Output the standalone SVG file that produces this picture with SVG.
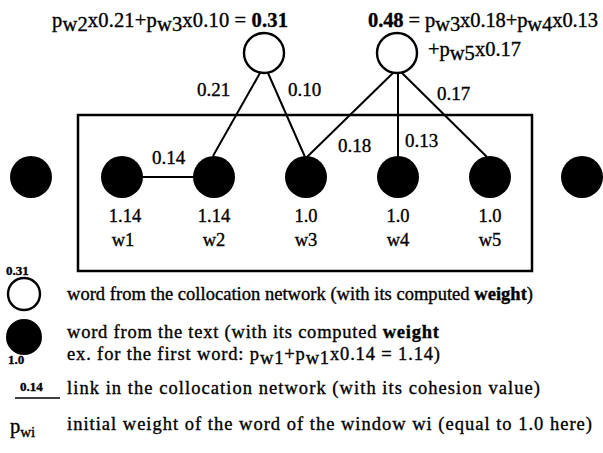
<svg xmlns="http://www.w3.org/2000/svg" width="603" height="453" viewBox="0 0 603 453">
<style>
text{font-family:"Liberation Serif","Times New Roman",serif;fill:#000;stroke:#000;stroke-width:0.35;}
.t{font-size:20.5px;}
.e{font-size:19px;}
.n{font-size:18.5px;}
.l{font-size:18.5px;}
.b{font-weight:bold;}
.s{font-size:15px;}
.tiny{font-size:13px;font-weight:bold;}
.open{fill:#fff;stroke:#000;stroke-width:2.4;}
.dot{fill:#000;}
.edge{stroke:#000;stroke-width:2;fill:none;}
.box{fill:none;stroke:#000;stroke-width:2.5;}
</style>
<rect width="603" height="453" fill="#fff"/>
<g id="window">
<rect class="box" x="78" y="115" width="454" height="156"/>
</g>
<g id="connectors">
<line class="edge" x1="260" y1="73" x2="213" y2="156"/>
<line class="edge" x1="268" y1="73" x2="305" y2="157"/>
<line class="edge" x1="394" y1="72" x2="307" y2="157"/>
<line class="edge" x1="398" y1="73" x2="398" y2="156"/>
<line class="edge" x1="401" y1="72" x2="487" y2="157"/>
<line class="edge" x1="141" y1="177" x2="195" y2="177"/>
<text class="e" x="197" y="96">0.21</text>
<text class="e" x="288" y="96">0.10</text>
<text class="e" x="437" y="100">0.17</text>
<text class="e" x="338" y="152">0.18</text>
<text class="e" x="405" y="147">0.13</text>
<text class="e" x="152" y="164">0.14</text>
</g>
<g id="c1">
<circle class="open" cx="264" cy="53" r="20"/>
<text class="t" x="52" y="27" textLength="236">p<tspan dy="4">w2</tspan><tspan dy="-4">x0.21+p</tspan><tspan dy="4">w3</tspan><tspan dy="-4">x0.10 = </tspan><tspan class="b">0.31</tspan></text>
</g>
<g id="c2">
<circle class="open" cx="397" cy="53" r="20"/>
<text class="t" x="368" y="27" textLength="230"><tspan class="b">0.48</tspan> = p<tspan dy="4">w3</tspan><tspan dy="-4">x0.18+p</tspan><tspan dy="4">w4</tspan><tspan dy="-4">x0.13</tspan></text>
<text class="t" x="428" y="56">+p<tspan dy="4">w5</tspan><tspan dy="-4">x0.17</tspan></text>
</g>
<g id="left"><ellipse class="dot" cx="31" cy="177" rx="21" ry="21"/></g>
<g id="w1"><ellipse class="dot" cx="122" cy="177" rx="21" ry="21"/><text class="n" x="125" y="222" text-anchor="middle">1.14</text><text class="n" x="123" y="246" text-anchor="middle">w1</text></g>
<g id="w2"><ellipse class="dot" cx="214" cy="177" rx="21" ry="21"/><text class="n" x="214" y="222" text-anchor="middle">1.14</text><text class="n" x="214" y="246" text-anchor="middle">w2</text></g>
<g id="w3"><ellipse class="dot" cx="306" cy="177" rx="21" ry="21"/><text class="n" x="306" y="222" text-anchor="middle">1.0</text><text class="n" x="306" y="246" text-anchor="middle">w3</text></g>
<g id="w4"><ellipse class="dot" cx="398" cy="177" rx="21" ry="21"/><text class="n" x="398" y="222" text-anchor="middle">1.0</text><text class="n" x="398" y="246" text-anchor="middle">w4</text></g>
<g id="w5"><ellipse class="dot" cx="490" cy="177" rx="21" ry="21"/><text class="n" x="490" y="222" text-anchor="middle">1.0</text><text class="n" x="490" y="246" text-anchor="middle">w5</text></g>
<g id="right"><ellipse class="dot" cx="582" cy="177" rx="21" ry="21"/></g>
<g id="legend">
<text class="tiny" x="6" y="275">0.31</text>
<circle class="open" cx="24" cy="294" r="16"/>
<text class="l" x="67" y="300" textLength="466">word from the collocation network (with its computed <tspan class="b">weight</tspan>)</text>
<circle class="dot" cx="24" cy="337" r="18"/>
<text class="l" x="67" y="338" textLength="372">word from the text (with its computed <tspan class="b">weight</tspan></text>
<text class="l" x="67" y="360" textLength="373">ex. for the first word: p<tspan dy="4">w1</tspan><tspan dy="-4">+p</tspan><tspan dy="4">w1</tspan><tspan dy="-4">x0.14 = 1.14)</tspan></text>
<text class="tiny" x="8" y="364">1.0</text>
<text x="20" y="391" style="font-size:13px;font-weight:bold">0.14</text>
<line x1="15" y1="398" x2="60" y2="398" style="stroke:#000;stroke-width:1.5"/>
<text class="l" x="67" y="394" textLength="473">link in the collocation network (with its cohesion value)</text>
<text class="t" x="10" y="433">p<tspan dy="4" class="s">wi</tspan></text>
<text class="l" x="67" y="430" textLength="525">initial weight of the word of the window wi (equal to 1.0 here)</text>
</g>
</svg>
